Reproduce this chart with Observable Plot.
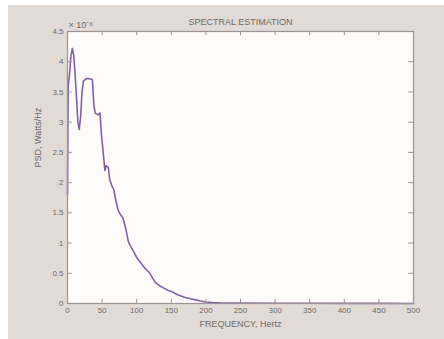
<!DOCTYPE html>
<html>
<head>
<meta charset="utf-8">
<script src="https://cdn.jsdelivr.net/npm/d3@7"></script>
<script src="https://cdn.jsdelivr.net/npm/@observablehq/plot@0.6"></script>
<style>
  html, body { margin: 0; padding: 0; background: #ffffff; }
  #wrap { padding: 5px 0 0 8px; width: 436px; height: 334px; }
  #chart { background: #e2dad4; width: 436px; height: 334px; }
  #chart svg { display: block; }
</style>
</head>
<body>
<div id="wrap"><div id="chart"></div></div>
<script>
// Frequency (Hz)
const freq = [0, 1, 3, 5, 7, 9, 11, 13, 15, 17, 19, 21, 23, 27, 32, 36, 38, 40, 44, 47, 49, 52, 54, 56, 59, 61, 64, 67, 70, 73, 76, 80, 84, 88, 92, 96, 100, 104, 108, 112, 115, 119, 123, 127, 131, 135, 140, 145, 150, 155, 160, 165, 170, 178, 185, 192, 200, 210, 220, 250, 300, 350, 400, 450, 500];
// PSD values (x 10^-6 Watts/Hz)
const psd = [1.8, 3.6, 3.8, 4.1, 4.22, 4.1, 3.8, 3.4, 3.0, 2.88, 3.1, 3.5, 3.68, 3.72, 3.72, 3.7, 3.3, 3.15, 3.12, 3.15, 2.8, 2.45, 2.2, 2.28, 2.25, 2.05, 1.95, 1.88, 1.7, 1.55, 1.48, 1.42, 1.25, 1.02, 0.93, 0.85, 0.76, 0.7, 0.64, 0.58, 0.55, 0.5, 0.42, 0.35, 0.31, 0.28, 0.25, 0.22, 0.2, 0.17, 0.14, 0.12, 0.1, 0.08, 0.06, 0.04, 0.025, 0.015, 0.01, 0.006, 0.004, 0.003, 0.002, 0.002, 0.001];
const xTicks = [0, 50, 100, 150, 200, 250, 300, 350, 400, 450, 500];
const yTicks = [0, 0.5, 1, 1.5, 2, 2.5, 3, 3.5, 4, 4.5];
const titleText = "SPECTRAL ESTIMATION";
const xLabel = "FREQUENCY, Hertz";
const yLabel = "PSD, Watts/Hz";
const expLabel = "× 10⁻⁶";

const data = freq.map((f, i) => ({f, v: psd[i]}));
const textColor = "#6e6a68";
const axisColor = "#9c9494";
const font = "Liberation Sans, Arial, sans-serif";

const chart = Plot.plot({
  width: 436,
  height: 334,
  marginLeft: 59,
  marginRight: 31,
  marginTop: 26,
  marginBottom: 36,
  style: {background: "transparent", fontFamily: font, fontSize: "8px", color: textColor},
  x: {domain: [0, 500]},
  y: {domain: [0, 4.5]},
  marks: [
    Plot.frame({fill: "#fdfcfa", stroke: "none"}),
    Plot.line(data, {x: "f", y: "v", stroke: "#8261a6", strokeWidth: 1.6}),
    Plot.frame({stroke: axisColor, strokeWidth: 1.2}),
    // inward ticks on all four sides
    Plot.ruleX(xTicks, {x: d => d, y1: 0, y2: 0.07, stroke: axisColor}),
    Plot.ruleX(xTicks, {x: d => d, y1: 4.5, y2: 4.43, stroke: axisColor}),
    Plot.ruleY(yTicks, {y: d => d, x1: 0, x2: 7, stroke: axisColor}),
    Plot.ruleY(yTicks, {y: d => d, x1: 500, x2: 493, stroke: axisColor}),
    Plot.axisX(xTicks, {tickSize: 0, tickPadding: 4, fill: textColor, fontSize: 8, label: null, tickFormat: d => String(d)}),
    Plot.axisY(yTicks, {tickSize: 0, tickPadding: 4, fill: textColor, fontSize: 8, label: null, tickFormat: d => String(d)}),
    Plot.text([titleText], {frameAnchor: "top", dy: -13, fill: textColor, fontSize: 9}),
    Plot.text([expLabel], {frameAnchor: "top-left", textAnchor: "start", dy: -10, dx: 1, fill: textColor, fontSize: 9}),
    Plot.text([xLabel], {frameAnchor: "bottom", dy: 23, fill: textColor, fontSize: 9}),
    Plot.text([yLabel], {frameAnchor: "left", dx: -29, rotate: -90, fill: textColor, fontSize: 9})
  ]
});
document.getElementById("chart").append(chart);
</script>
</body>
</html>
